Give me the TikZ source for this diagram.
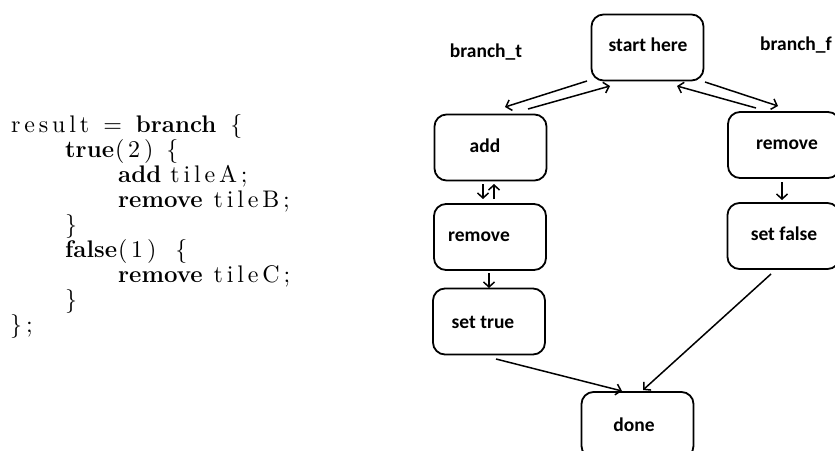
\documentclass[tikz,border=0pt]{standalone}
\usepackage{fontspec}
\newfontfamily\boxfont{Carlito}
\newfontfamily\codesp{lmroman10-regular.otf}[LetterSpace=16]
\usetikzlibrary{arrows.meta}
\newcommand{\kw}[1]{{\normalfont\bfseries #1}}
\newcommand{\gap}[1]{\hspace{#1pt}}
\tikzset{
  box/.style={draw, line width=1.8pt, rounded corners=12pt, minimum width=112pt, minimum height=66pt, inner sep=0pt},
  boxtxt/.style={font=\boxfont\bfseries\fontsize{19.5}{22}\selectfont, inner sep=0pt},
  code/.style={anchor=base west, inner sep=0pt, font=\fontsize{24}{27}\selectfont\codesp},
  arr/.style={line width=1.5pt, -{Straight Barb[length=5pt,width=11pt]}},
}
\begin{document}
\begin{tikzpicture}[x=1pt,y=-1pt]
\useasboundingbox (0,0) rectangle (835,450);
% code
\node[code] (c1) at (11,132) {result\gap{14}=\gap{14}\kw{branch}\gap{14}\{};
\node[code] (c2) at (65,157) {\kw{true}\gap{1}(2)\gap{13}\{};
\node[code] (c3) at (118,182) {\kw{add}\gap{9}tileA;};
\node[code] (c4) at (118,207) {\kw{remove}\gap{11}tileB;};
\node[code] (c5) at (65,232) {\}};
\node[code] (c6) at (65,257) {\kw{false}\gap{1}(1)\gap{19}\{};
\node[code] (c7) at (118,282) {\kw{remove}\gap{11}tileC;};
\node[code] (c8) at (65,307) {\}};
\node[code] (c9) at (10,332) {\};};
% boxes
\node[box] (start) at (647.5,47.5) {};
\node[boxtxt] at (648,45) {start here};
\node[box] (add) at (490.5,147.5) {};
\node[boxtxt] at (485,146) {add};
\node[box] (rmR) at (784,145) {};
\node[boxtxt] at (787,145) {remove};
\node[box] (rmL) at (490,237) {};
\node[boxtxt] at (479,237) {remove};
\node[box] (settrue) at (489,321.5) {};
\node[boxtxt] at (483,322) {set true};
\node[box] (setfalse) at (783.5,236) {};
\node[boxtxt] at (784,234) {set false};
\node[box] (done) at (637.5,425) {};
\node[boxtxt] at (634,425) {done};
\node[boxtxt] (bt) at (486,52) {branch\_t};
\node[boxtxt] (bf) at (796,45) {branch\_f};
% connector points
\coordinate (s1) at (587,81);  \coordinate (a1) at (505,107);
\coordinate (a2) at (528,109); \coordinate (s2) at (610,86);
\coordinate (s3) at (705,82);  \coordinate (r1) at (778,106);
\coordinate (r2) at (756,108); \coordinate (s4) at (677,86);
\coordinate (a3) at (483,184); \coordinate (l1) at (483,199);
\coordinate (l2) at (494,199); \coordinate (a4) at (494,184);
\coordinate (l3) at (489,273); \coordinate (t1) at (489,288);
\coordinate (r3) at (782,182); \coordinate (f1) at (782,200);
\coordinate (t2) at (496,359); \coordinate (d1) at (622,391);
\coordinate (f2) at (771,274); \coordinate (d2) at (643,390);
\draw[arr] (s1) -- (a1);
\draw[arr] (a2) -- (s2);
\draw[arr] (s3) -- (r1);
\draw[arr] (r2) -- (s4);
\draw[arr] (a3) -- (l1);
\draw[arr] (l2) -- (a4);
\draw[arr] (l3) -- (t1);
\draw[arr] (r3) -- (f1);
\draw[arr] (t2) -- (d1);
\draw[arr] (f2) -- (d2);
\end{tikzpicture}
\end{document}
